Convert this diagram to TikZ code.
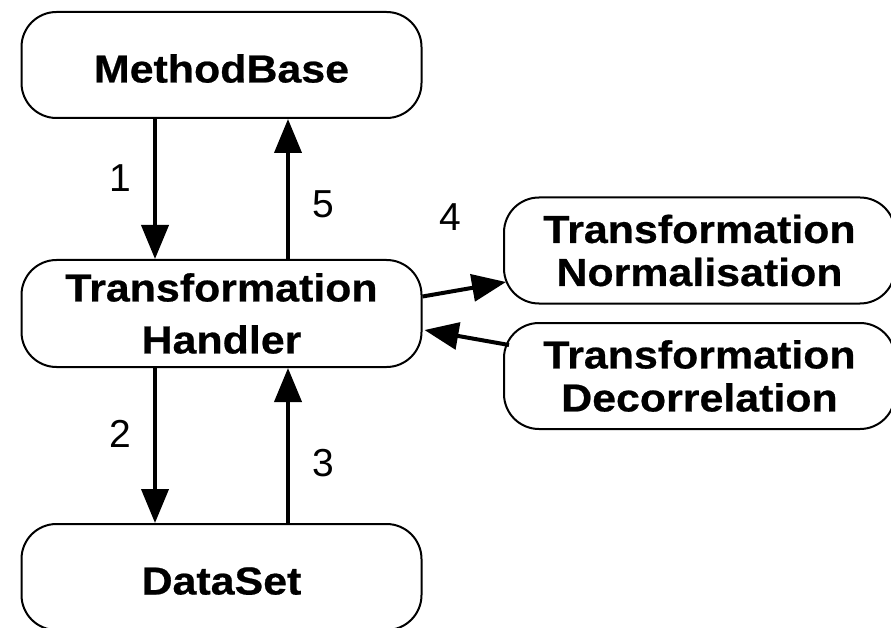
\documentclass[tikz,border=0pt]{standalone}
\usepackage{fontspec}
\setmainfont{Liberation Sans}
\newfontfamily\boxfamily{Liberation Sans}[FakeStretch=1.1,BoldFeatures={FakeBold=0.6}]
\usetikzlibrary{arrows.meta,calc}
\begin{document}
\begin{tikzpicture}[x=1pt,y=-1pt,
  box/.style={draw,line width=2pt,rounded corners=35pt,minimum width=400pt,
    minimum height=106pt,inner sep=0pt,align=center,
    font={\boxfamily\bfseries\fontsize{39}{52}\selectfont}},
  onebox/.style={box,text height=35pt,text depth=0pt},
  sidebox/.style={box,minimum width=391pt,
    font={\boxfamily\bfseries\fontsize{39}{43}\selectfont}},
  flow/.style={line width=4pt,-{Triangle[length=34pt,width=27pt]}},
  num/.style={inner sep=0pt,font=\fontsize{39}{39}\selectfont}]
\useasboundingbox (0,0) rectangle (891,628);

% boxes
\node[onebox] (MB) at (221.5,65) {MethodBase};
\node[box,minimum height=107pt] (TH) at (221.5,313.5) {Transformation\\Handler};
\node[onebox] (DS) at (221.5,577) {DataSet};
\node[sidebox] (NO) at (699.5,250.5) {Transformation\\Normalisation};
\node[sidebox] (DE) at (699.5,376) {Transformation\\Decorrelation};

% columns of the vertical connectors
\coordinate (down) at (155,0);
\coordinate (up) at (288,0);

% connectors
\draw[flow] (MB.south -| down) -- (TH.north -| down);
\draw[flow] (TH.north -| up) -- (MB.south -| up);
\draw[flow] (TH.south -| down) -- (DS.north -| down);
\draw[flow] (DS.north -| up) -- (TH.south -| up);
\draw[flow] ($(TH.east)+(0,-17)$) -- ($(NO.west)+(3,31.5)$);
\draw[flow] ($(DE.west)+(6,-31)$) -- ($(TH.east)+(2,16.5)$);

% step numbers
\node[num] (n1) at (120,178) {1};
\node[num] (n2) at (120,434) {2};
\node[num] (n3) at (323,463) {3};
\node[num] (n4) at (450,217) {4};
\node[num] (n5) at (323,204) {5};
\end{tikzpicture}
\end{document}
